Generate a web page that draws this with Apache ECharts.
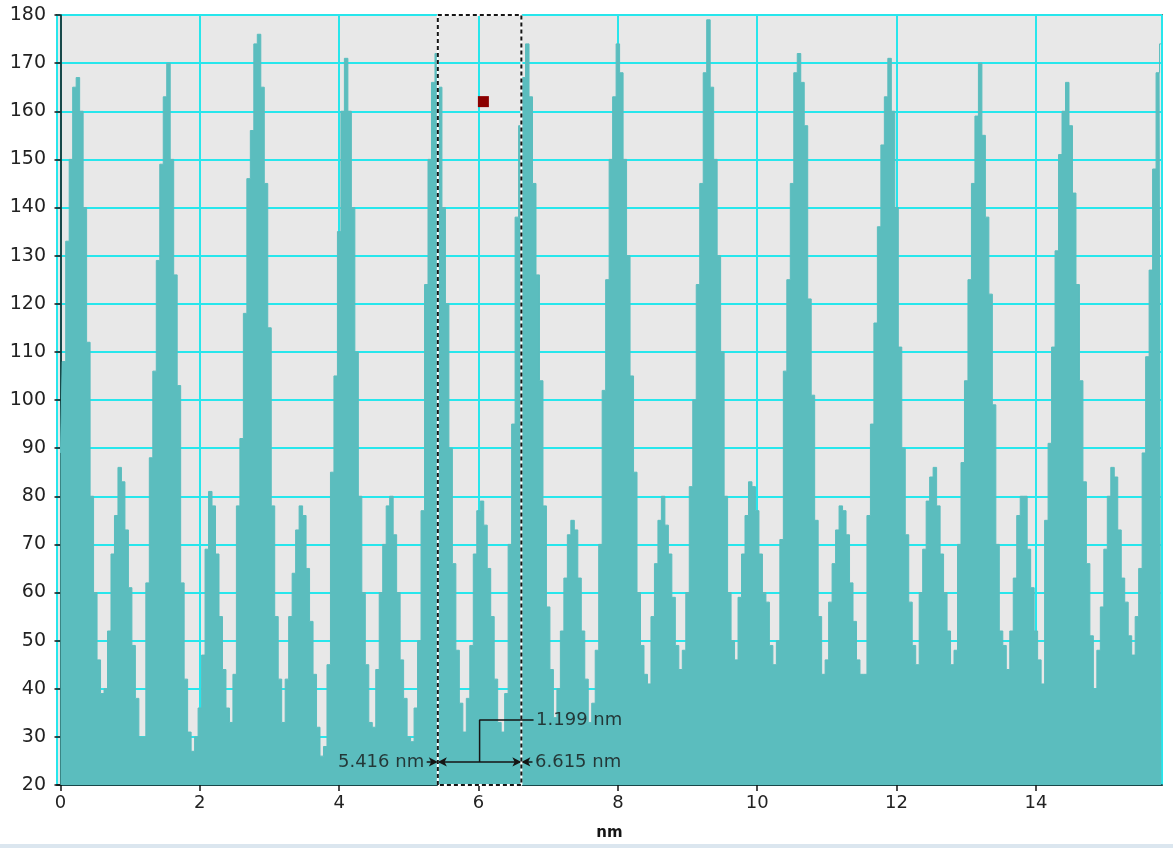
<!DOCTYPE html>
<html>
<head>
<meta charset="utf-8">
<script src="https://cdn.jsdelivr.net/npm/echarts@6/dist/echarts.min.js"></script>
<style>
html,body{margin:0;padding:0;background:#ffffff;}
#chart{width:1173px;height:848px;}
</style>
</head>
<body>
<div id="chart"></div>
<script>
// ---- data ----
const sampleStartNm = 0;
const sampleStepNm = 0.05;
const intensity = [
  89,108,133,150,165,167,160,140,112,80,
  60,46,39,40,52,68,76,86,83,73,
  61,49,38,30,30,62,88,106,129,149,
  163,170,150,126,103,62,42,31,27,30,
  36,47,69,81,78,68,55,44,36,33,
  43,78,92,118,146,156,174,176,165,145,
  115,78,55,42,33,42,55,64,73,78,
  76,65,54,43,32,26,28,45,85,105,
  135,160,171,160,140,110,80,60,45,33,
  32,44,60,70,78,80,72,60,46,38,
  30,29,36,50,77,124,150,166,172,165,
  140,120,90,66,48,37,31,38,49,68,
  77,79,74,65,55,42,33,31,39,70,
  95,138,157,167,174,163,145,126,104,78,
  57,44,34,40,52,63,72,75,73,63,
  52,42,33,37,48,70,102,125,150,163,
  174,168,150,130,105,85,60,49,43,41,
  55,66,75,80,74,68,59,49,44,48,
  60,82,100,124,145,168,179,165,150,130,
  110,80,60,50,46,59,68,76,83,82,
  77,68,60,58,49,45,50,71,106,125,
  145,168,172,166,157,121,101,75,55,43,
  46,58,66,73,78,77,72,62,54,46,
  43,43,76,95,116,136,153,163,171,160,
  140,111,90,72,58,49,45,60,69,79,
  84,86,78,68,60,52,45,48,70,87,
  104,125,145,159,170,155,138,122,99,70,
  52,49,44,52,63,76,80,80,69,61,
  52,46,41,75,91,111,131,151,160,166,
  157,143,124,104,83,66,51,40,48,57,
  69,80,86,84,73,63,58,51,47,55,
  65,89,109,127,148,168,174
];
const xRangeNm = [-0.05, 15.81];
const yRange = [20, 180];
const yTickStep = 10;
const xAxisName = 'nm';

const selectionNm = [5.416, 6.615];
const selectionLabels = ['5.416 nm', '6.615 nm'];
const widthLabel = '1.199 nm';
const measureLevel = 24.8;
const calloutLevel = 33.5;
const calloutEndNm = 6.79;
const outerArrowLenNm = 0.16;
const cursorPoint = [6.07, 162];

// ---- build ----
const profile = intensity.map((v, i) => [+(sampleStartNm + i * sampleStepNm).toFixed(3), v]);
const midNm = (selectionNm[0] + selectionNm[1]) / 2;

const teal = '#5bbdbe';
const gridCyan = '#27e6ec';
const ink = '#151515';
const fontFam = '"DejaVu Sans", "Open Sans", sans-serif';

const chart = echarts.init(document.getElementById('chart'), null, {renderer: 'canvas'});

chart.setOption({
  animation: false,
  backgroundColor: '#ffffff',
  grid: {
    left: 57, right: 11, top: 15, bottom: 63,
    show: true, backgroundColor: '#e8e8e8', borderColor: ink, borderWidth: 1.5,
    containLabel: false
  },
  xAxis: {
    type: 'value',
    min: xRangeNm[0], max: xRangeNm[1],
    splitNumber: 8,
    name: xAxisName, nameLocation: 'middle', nameGap: 41,
    nameTextStyle: {fontFamily: fontFam, fontSize: 15, fontWeight: 'bold', color: ink},
    axisLine: {show: true, lineStyle: {color: ink, width: 1.5}},
    axisTick: {show: true, length: 6, lineStyle: {color: ink, width: 1.5}},
    axisLabel: {
      fontFamily: fontFam, fontSize: 18, color: '#222', margin: 9,
      showMinLabel: false, showMaxLabel: false
    },
    splitLine: {show: true, lineStyle: {color: gridCyan, width: 2}}
  },
  yAxis: {
    type: 'value',
    min: yRange[0], max: yRange[1], interval: yTickStep,
    axisLine: {show: true, lineStyle: {color: ink, width: 1.5}},
    axisTick: {show: true, length: 6, lineStyle: {color: ink, width: 1.5}},
    axisLabel: {fontFamily: fontFam, fontSize: 19, color: '#222', margin: 11},
    splitLine: {show: true, lineStyle: {color: gridCyan, width: 2}}
  },
  graphic: [{
    type: 'rect', left: 0, bottom: 0,
    shape: {width: 1173, height: 4},
    style: {fill: '#dbe6ef'}, silent: true
  }],
  series: [
    {
      name: 'profile', type: 'line', step: 'middle',
      data: profile, showSymbol: false, symbol: 'none',
      lineStyle: {width: 1, color: teal},
      areaStyle: {color: teal, opacity: 1},
      z: 2, silent: true
    },
    {
      name: 'selection-under', type: 'line', clip: false, silent: true,
      data: [[selectionNm[0], yRange[0]], [selectionNm[0], yRange[1]], [selectionNm[1], yRange[1]], [selectionNm[1], yRange[0]], [selectionNm[0], yRange[0]]],
      symbol: 'none', lineStyle: {color: '#ffffff', width: 2}, z: 5
    },
    {
      name: 'selection', type: 'line', clip: false, silent: true,
      data: [[selectionNm[0], yRange[0]], [selectionNm[0], yRange[1]], [selectionNm[1], yRange[1]], [selectionNm[1], yRange[0]], [selectionNm[0], yRange[0]]],
      symbol: 'none', lineStyle: {color: ink, width: 2, type: [4, 3]}, z: 6
    },
    {
      name: 'callout', type: 'line', silent: true,
      data: [[midNm, measureLevel], [midNm, calloutLevel], [calloutEndNm, calloutLevel]],
      symbol: 'none', lineStyle: {color: ink, width: 1.5}, z: 7,
      markLine: {
        silent: true, animation: false,
        symbolSize: [7, 9],
        label: {show: false},
        lineStyle: {color: ink, width: 1.5, type: 'solid'},
        data: [
          [{coord: [selectionNm[0], measureLevel], symbol: 'arrow'}, {coord: [selectionNm[1], measureLevel], symbol: 'arrow'}],
          [{coord: [selectionNm[0] - outerArrowLenNm, measureLevel], symbol: 'none'}, {coord: [selectionNm[0], measureLevel], symbol: 'arrow'}],
          [{coord: [selectionNm[1] + outerArrowLenNm, measureLevel], symbol: 'none'}, {coord: [selectionNm[1], measureLevel], symbol: 'arrow'}]
        ]
      }
    },
    {
      name: 'labels', type: 'scatter', silent: true, z: 8,
      symbolSize: 1, itemStyle: {color: 'rgba(0,0,0,0)'},
      label: {show: true, fontFamily: fontFam, fontSize: 18, color: ink, formatter: p => p.name, distance: 2},
      data: [
        {name: selectionLabels[0], value: [selectionNm[0] - outerArrowLenNm, measureLevel], label: {position: 'left'}},
        {name: selectionLabels[1], value: [selectionNm[1] + outerArrowLenNm, measureLevel], label: {position: 'right'}},
        {name: widthLabel, value: [calloutEndNm, calloutLevel], label: {position: 'right'}}
      ]
    },
    {
      name: 'cursor', type: 'scatter', silent: true, z: 9,
      symbol: 'rect', symbolSize: 11,
      itemStyle: {color: '#8b0000', opacity: 1},
      data: [cursorPoint]
    }
  ]
});
</script>
</body>
</html>
